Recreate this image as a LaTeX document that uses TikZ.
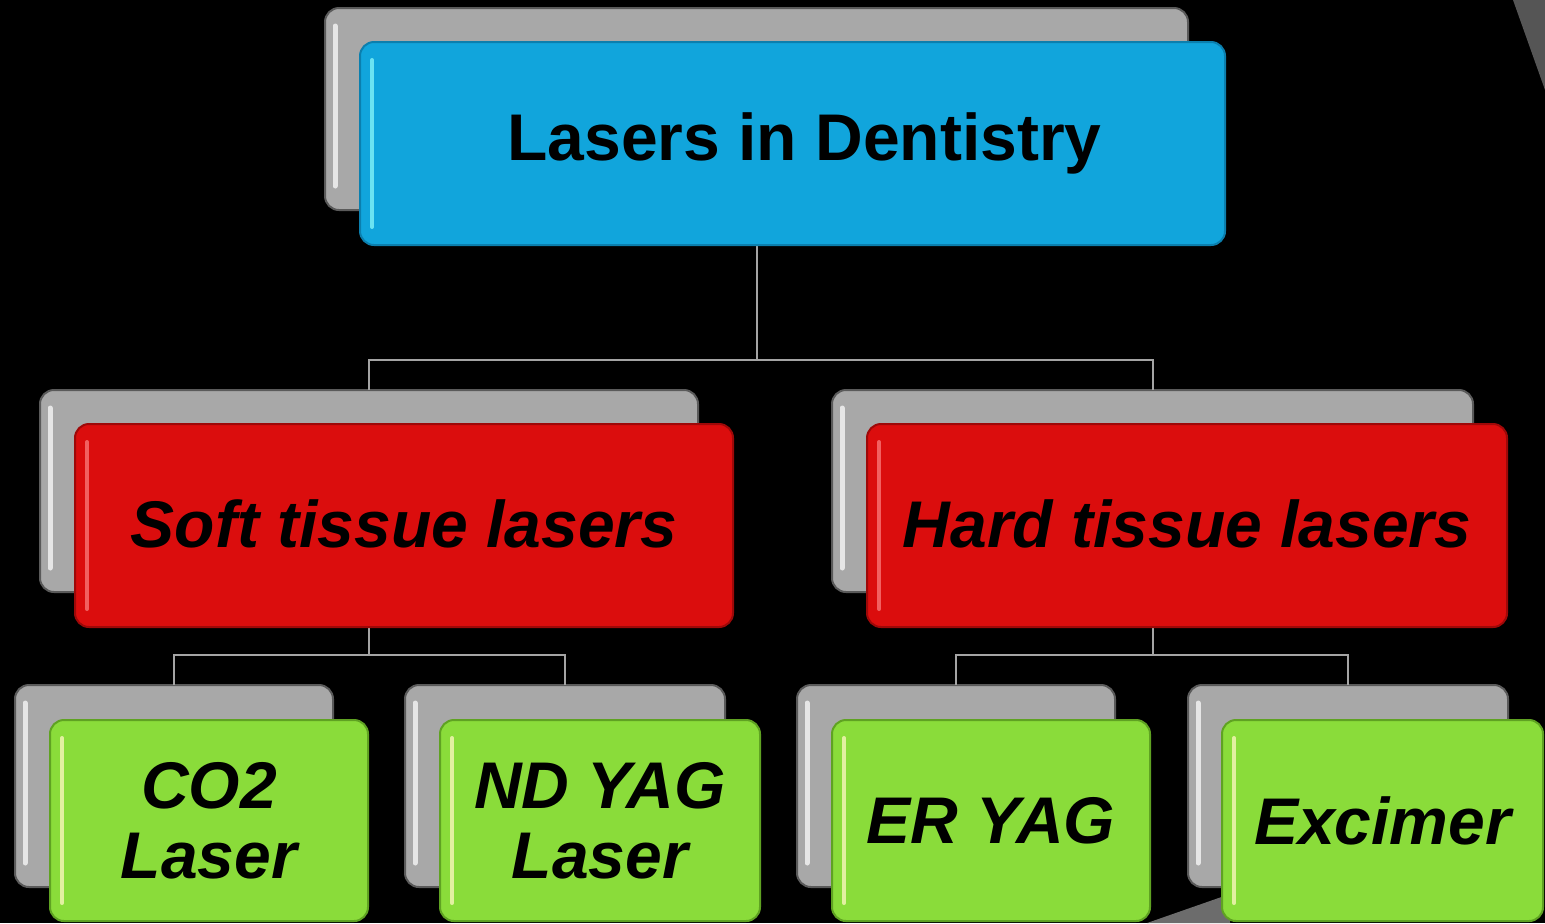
\documentclass[tikz,border=0pt]{standalone}
\usepackage{fontspec}
\setmainfont{Liberation Sans}
\definecolor{bgblack}{HTML}{000000}
\definecolor{shgray}{HTML}{A8A8A8}
\definecolor{shedge}{HTML}{5A5A5A}
\definecolor{shlight}{HTML}{E6E6E6}
\definecolor{conngray}{HTML}{A4A4A4}
\definecolor{blueF}{HTML}{11A5DC}
\definecolor{blueE}{HTML}{0B7FAE}
\definecolor{blueL}{HTML}{6BE3F2}
\definecolor{redF}{HTML}{DB0D0D}
\definecolor{redE}{HTML}{9E0808}
\definecolor{redL}{HTML}{F26060}
\definecolor{greenF}{HTML}{8ADC3A}
\definecolor{greenE}{HTML}{5FA222}
\definecolor{greenL}{HTML}{E2F0A0}
\definecolor{wedge}{HTML}{555555}
\definecolor{wedgeB}{HTML}{6C6C6C}
\tikzset{
  wh/.style 2 args={minimum width=#1*0.5pt, minimum height=#2*0.5pt},
  basebox/.style={rectangle, rounded corners=7pt, inner sep=0pt, outer sep=0pt, line width=1pt, align=center},
  shbox/.style={basebox, draw=shedge, fill=shgray,
    path picture={\draw[shlight, line width=2.5pt, line cap=round]
      ([xshift=5pt,yshift=-9pt]path picture bounding box.north west) --
      ([xshift=5pt,yshift=12pt]path picture bounding box.south west);}},
  glossy/.style={path picture={\draw[#1, line width=2pt, line cap=round]
      ([xshift=6pt,yshift=-9pt]path picture bounding box.north west) --
      ([xshift=6pt,yshift=9pt]path picture bounding box.south west);}},
  bluebox/.style={basebox, draw=blueE, fill=blueF, glossy=blueL, font=\fontsize{33}{35}\selectfont\bfseries},
  redbox/.style={basebox, draw=redE, fill=redF, glossy=redL, font=\fontsize{33}{35}\selectfont\bfseries\itshape},
  greenbox/.style={basebox, draw=greenE, fill=greenF, glossy=greenL, font=\fontsize{33}{35}\selectfont\bfseries\itshape},
  conn/.style={draw=conngray, line width=1pt}
}
\begin{document}
\begin{tikzpicture}[x=0.5pt,y=-0.5pt]
\fill[bgblack] (0,0) rectangle (1545,923);
\useasboundingbox (0,0) rectangle (1545,923);
% background decorations
\fill[wedge] (1513,0) -- (1545,0) -- (1545,90) -- cycle;
\fill[wedgeB] (1147,923) -- (1230,894) -- (1230,923) -- cycle;

% shadow boxes
\node[shbox, wh={863}{202}] (topsh) at (756.5,109) {};
\node[shbox, wh={658}{202}] (softsh) at (369,491) {};
\node[shbox, wh={641}{202}] (hardsh) at (1152.5,491) {};
\node[shbox, wh={318}{202}] (co2sh) at (174,786) {};
\node[shbox, wh={320}{202}] (ndsh) at (565,786) {};
\node[shbox, wh={318}{202}] (ersh) at (956,786) {};
\node[shbox, wh={320}{202}] (exsh) at (1348,786) {};

% connectors
\draw[conn] (topsh.south) -- ++(0,150) -| (softsh.north);
\draw[conn] (topsh.south) -- ++(0,150) -| (hardsh.north);
\draw[conn] (softsh.south) -- ++(0,63) -| (co2sh.north);
\draw[conn] (softsh.south) -- ++(0,63) -| (ndsh.north);
\draw[conn] (hardsh.south) -- ++(0,63) -| (ersh.north);
\draw[conn] (hardsh.south) -- ++(0,63) -| (exsh.north);

% main boxes
\node[bluebox, wh={865}{203}] (top) at (792.5,143.5) {\hspace*{12pt}Lasers in Dentistry};
\node[redbox, wh={658}{203}] (soft) at (404,525.5) {\raisebox{2pt}{Soft tissue lasers}};
\node[redbox, wh={640}{203}] (hard) at (1187,525.5) {\raisebox{2pt}{Hard tissue lasers}};
\node[greenbox, wh={318}{201}] (co2) at (209,820.5) {CO2\\Laser};
\node[greenbox, wh={320}{201}] (nd) at (600,820.5) {ND YAG\\Laser};
\node[greenbox, wh={318}{201}] (er) at (991,820.5) {ER YAG};
\node[greenbox, wh={321}{201}] (ex) at (1382.5,820.5) {Excimer};
\end{tikzpicture}
\end{document}
